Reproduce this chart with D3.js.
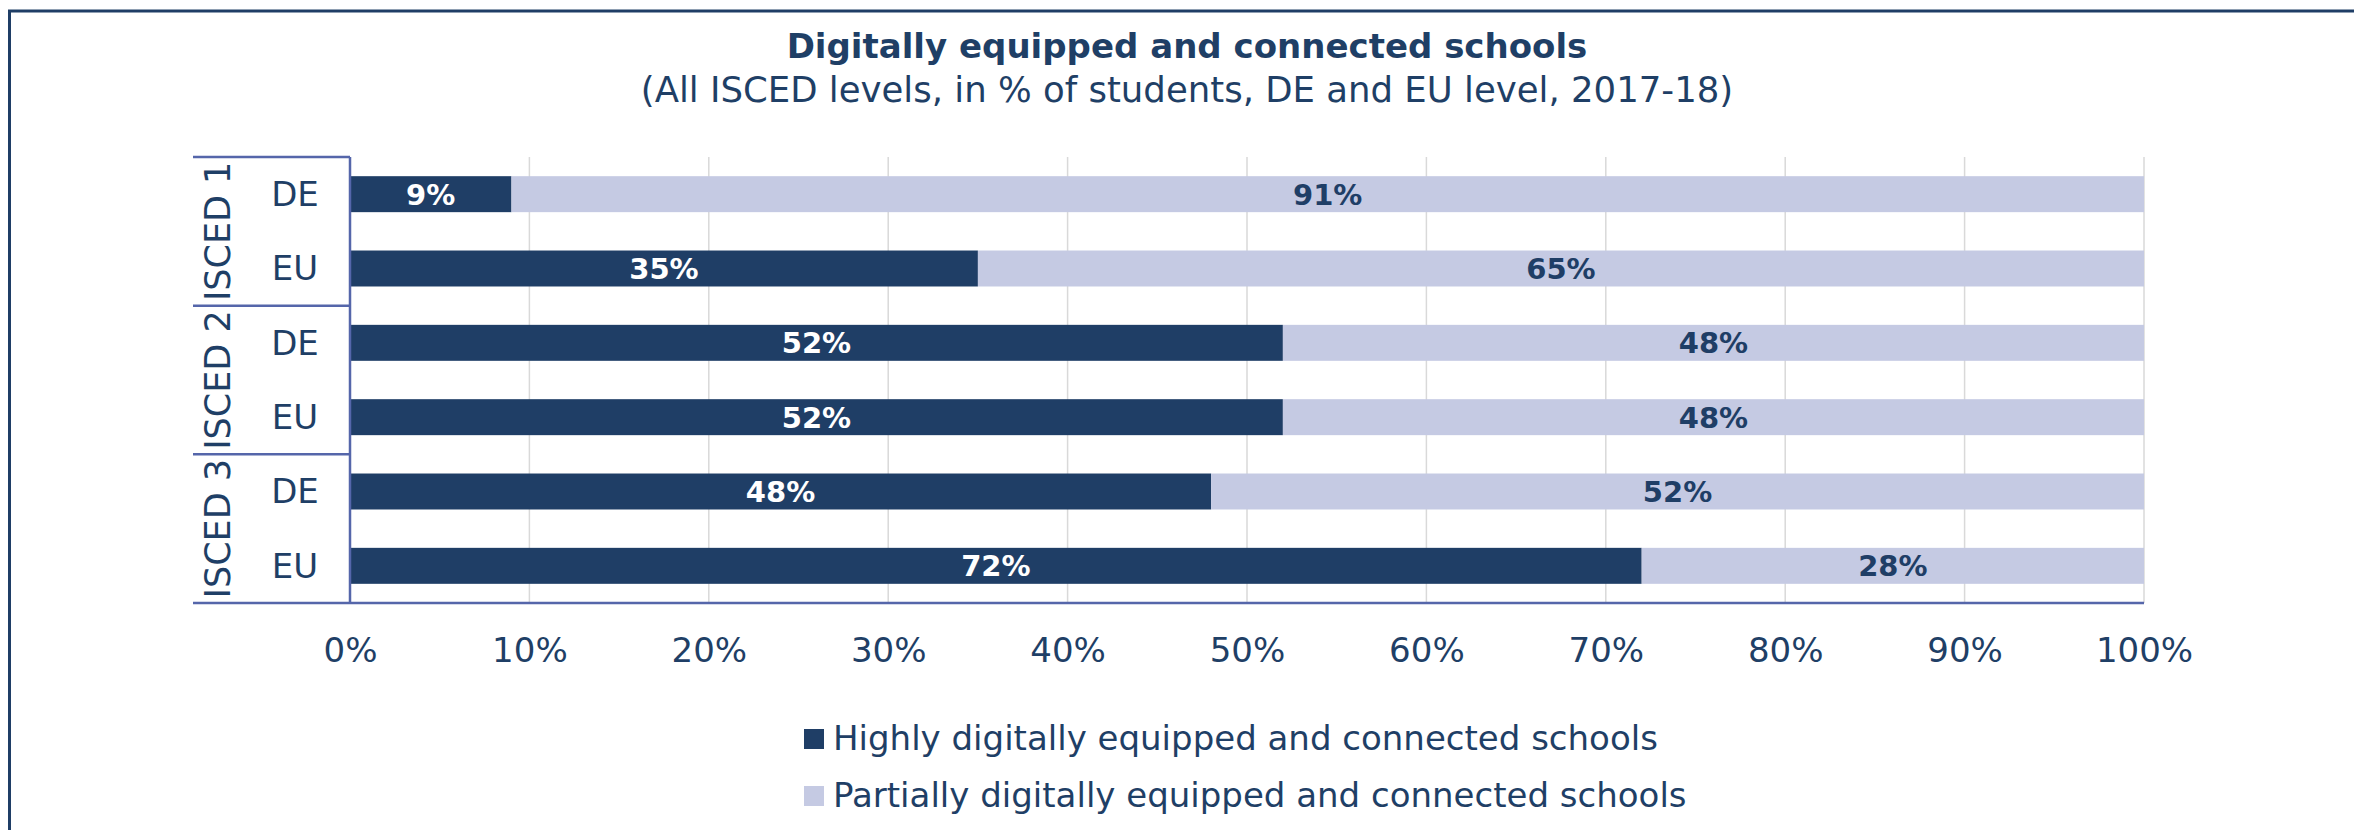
<!DOCTYPE html>
<html>
<head>
<meta charset="utf-8">
<script src="https://cdn.jsdelivr.net/npm/d3@7"></script>
<style>
    body { margin: 0; background: #ffffff; }
    text { font-family: "DejaVu Sans", Verdana, sans-serif; fill: #1f3f66; }
</style>
</head>
<body>
<div id="my_dataviz"></div>
<script>
// data
var groups = ["ISCED 1", "ISCED 2", "ISCED 3"];
var countries = ["DE", "EU"];
var highly = [9, 35, 52, 52, 48, 72];
var partially = [91, 65, 48, 48, 52, 28];
var xTicks = [0, 10, 20, 30, 40, 50, 60, 70, 80, 90, 100];
var seriesNames = ["Highly digitally equipped and connected schools",
    "Partially digitally equipped and connected schools"];
var seriesColors = ["#1f3e66", "#c5cae3"];

// rows of the category axis (group + country)
var rows = [];
groups.forEach(function (g) {
    countries.forEach(function (c) {
        rows.push({ key: g + "|" + c, group: g, country: c });
    });
});
rows.forEach(function (d, i) {
    d.highly = highly[i];
    d.partially = partially[i];
});

var width = 2354, height = 830;
var margin = { top: 157, left: 350, right: 210, bottom: 227 };
var innerW = width - margin.left - margin.right,
    innerH = height - margin.top - margin.bottom;

var svg = d3.select("#my_dataviz")
    .append("svg")
    .attr("width", width)
    .attr("height", height);

// outer frame (top and left edges visible)
svg.append("path")
    .attr("d", "M9.5," + height + "V11H" + width)
    .attr("fill", "none")
    .attr("stroke", "#1f3e66")
    .attr("stroke-width", 3);

// titles
svg.append("text")
    .attr("x", 1187)
    .attr("y", 58)
    .attr("text-anchor", "middle")
    .style("font-weight", "bold")
    .style("font-size", "34px")
    .text("Digitally equipped and connected schools");
svg.append("text")
    .attr("x", 1187)
    .attr("y", 102)
    .attr("text-anchor", "middle")
    .style("font-size", "35.5px")
    .text("(All ISCED levels, in % of students, DE and EU level, 2017-18)");

var g = svg.append("g")
    .attr("transform", "translate(" + margin.left + "," + margin.top + ")");

// scales
var x = d3.scaleLinear()
    .domain([0, 100])
    .range([0, innerW]);
var y = d3.scaleBand()
    .domain(rows.map(function (d) { return d.key; }))
    .range([0, innerH])
    .paddingInner(0.516)
    .paddingOuter(0.258);
var gap = (y.step() - y.bandwidth()) / 2;

// gridlines
g.append("g")
    .selectAll("line")
    .data(xTicks.slice(1))
    .enter()
    .append("line")
    .attr("x1", function (d) { return x(d); })
    .attr("x2", function (d) { return x(d); })
    .attr("y1", 0)
    .attr("y2", innerH)
    .attr("stroke", "#d9d9d9")
    .attr("stroke-width", 1.5);

// stacked bars
var stack = d3.stack().keys(["highly", "partially"]);
var layers = stack(rows);

g.selectAll(".layer")
    .data(layers)
    .enter()
    .append("g")
    .attr("fill", function (d, i) { return seriesColors[i]; })
    .selectAll("rect")
    .data(function (d) { return d; })
    .enter()
    .append("rect")
    .attr("x", function (d) { return x(d[0]); })
    .attr("y", function (d) { return y(d.data.key); })
    .attr("width", function (d) { return x(d[1]) - x(d[0]); })
    .attr("height", y.bandwidth());

// value labels
layers.forEach(function (layer, i) {
    g.append("g")
        .selectAll("text")
        .data(layer)
        .enter()
        .append("text")
        .attr("x", function (d) { return (x(d[0]) + x(d[1])) / 2; })
        .attr("y", function (d) { return y(d.data.key) + y.bandwidth() / 2; })
        .attr("dy", "0.36em")
        .attr("text-anchor", "middle")
        .style("font-weight", "bold")
        .style("font-size", "29px")
        .style("fill", i === 0 ? "#ffffff" : "#1f3e66")
        .text(function (d) { return (d[1] - d[0]) + "%"; });
});

// x axis
var xAxis = g.append("g")
    .attr("transform", "translate(0," + innerH + ")")
    .call(d3.axisBottom(x).tickValues(xTicks).tickSize(0).tickPadding(35)
        .tickFormat(function (d) { return d + "%"; }));
xAxis.select(".domain").remove();
xAxis.selectAll("text")
    .style("font-size", "34px")
    .style("fill", "#1f3f66");

// y axis (country labels)
var yAxis = g.append("g")
    .call(d3.axisLeft(y).tickSize(0)
        .tickFormat(function (d) { return d.split("|")[1]; }));
yAxis.select(".domain").remove();
yAxis.selectAll("text")
    .attr("x", -55)
    .attr("dy", "0.35em")
    .attr("text-anchor", "middle")
    .style("font-size", "34px")
    .style("fill", "#1f3f66");

// group labels and separator lines
var axisColor = "#5566aa";
groups.forEach(function (grp, i) {
    var keys = rows.filter(function (d) { return d.group === grp; })
        .map(function (d) { return d.key; });
    var top = y(keys[0]) - gap;
    var bottom = y(keys[keys.length - 1]) + y.bandwidth() + gap;
    g.append("line")
        .attr("x1", -157).attr("x2", 0)
        .attr("y1", top).attr("y2", top)
        .attr("stroke", axisColor)
        .attr("stroke-width", 2.5);
    g.append("text")
        .attr("transform", "translate(-120," + ((top + bottom) / 2) + ")rotate(-90)")
        .attr("text-anchor", "middle")
        .style("font-size", "35px")
        .text(grp);
});

// axis lines
g.append("line")
    .attr("x1", -157).attr("x2", innerW)
    .attr("y1", innerH).attr("y2", innerH)
    .attr("stroke", axisColor)
    .attr("stroke-width", 2.5);
g.append("line")
    .attr("x1", 0).attr("x2", 0)
    .attr("y1", 0).attr("y2", innerH)
    .attr("stroke", axisColor)
    .attr("stroke-width", 2.5);

// legend
var legend = svg.append("g")
    .selectAll("g")
    .data(seriesNames)
    .enter()
    .append("g")
    .attr("transform", function (d, i) { return "translate(804," + (729 + i * 57) + ")"; });
legend.append("rect")
    .attr("width", 20)
    .attr("height", 20)
    .attr("fill", function (d, i) { return seriesColors[i]; });
legend.append("text")
    .attr("x", 29)
    .attr("y", 21)
    .style("font-size", "34px")
    .text(function (d) { return d; });
</script>
</body>
</html>
